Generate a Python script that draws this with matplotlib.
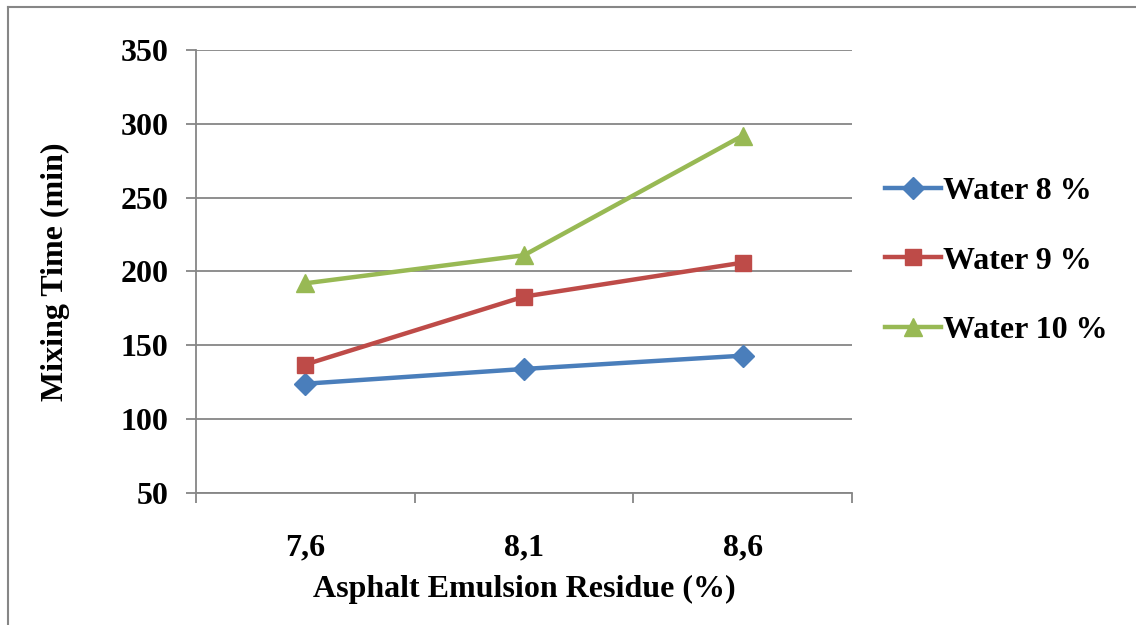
import matplotlib
matplotlib.use("Agg")
import matplotlib.pyplot as plt
from matplotlib.lines import Line2D

categories = ["7,6", "8,1", "8,6"]
water8 = [124, 134, 143]
water9 = [137, 183, 206]
water10 = [192, 211, 292]
series_names = ["Water 8 %", "Water 9 %", "Water 10 %"]
y_ticks = [50, 100, 150, 200, 250, 300, 350]

plt.rcParams['font.family'] = ['Liberation Serif', 'DejaVu Serif']
plt.rcParams['font.weight'] = 'bold'

FS = 23
fig = plt.figure(figsize=(11.36, 6.25), dpi=100)
ax = fig.add_axes([196/1136, 1-493/625, (852-196)/1136, (493-50)/625])

grid_c = '#868686'
x = list(range(len(categories)))
styles = [
    (water8, '#4A7EBB', 'D', 11),
    (water9, '#BE4B48', 's', 11.5),
    (water10, '#98B954', '^', 13.5),
]
for (vals, c, m, ms), name in zip(styles, series_names):
    ax.plot(x, vals, color=c, lw=3.2, marker=m, markersize=ms,
            markerfacecolor=c, markeredgecolor=c, label=name, zorder=3)

ax.set_xlim(-0.5, 2.5)
ax.set_ylim(50, 350)
ax.set_yticks(y_ticks)
ax.set_xticks(x)
ax.set_xticklabels(categories)
ax.set_xticks([-0.5, 0.5, 1.5, 2.5], minor=True)
ax.tick_params(axis='x', which='major', length=0, pad=29, labelsize=FS)
ax.tick_params(axis='x', which='minor', length=7, color=grid_c, width=1.3)
ax.tick_params(axis='y', length=7, color=grid_c, width=1.3, pad=13, labelsize=FS)
for lab in ax.get_xticklabels() + ax.get_yticklabels():
    lab.set_fontweight('bold')

ax.yaxis.grid(True, color=grid_c, lw=1.3)
ax.set_axisbelow(True)
for s in ['top', 'right']:
    ax.spines[s].set_visible(False)
for s in ['left', 'bottom']:
    ax.spines[s].set_color(grid_c)
    ax.spines[s].set_linewidth(1.3)

ax.set_xlabel("Asphalt Emulsion Residue (%)", fontsize=FS, fontweight='bold', labelpad=9)
ax.set_ylabel("Mixing Time (min)", fontsize=FS, fontweight='bold', labelpad=36)

leg = ax.legend(loc='center left', bbox_to_anchor=(1.006, 0.524), frameon=False,
                handlelength=1.75, handletextpad=0.08, labelspacing=1.25,
                prop={'family': 'Liberation Serif', 'weight': 'bold', 'size': FS})

# outer frame (top and left visible)
fig.add_artist(Line2D([8/1136, 8/1136], [0, 1-7/625], transform=fig.transFigure, color=grid_c, lw=1.5))
fig.add_artist(Line2D([8/1136, 1], [1-7/625, 1-7/625], transform=fig.transFigure, color=grid_c, lw=1.5))

fig.savefig("out.png", dpi=100)
